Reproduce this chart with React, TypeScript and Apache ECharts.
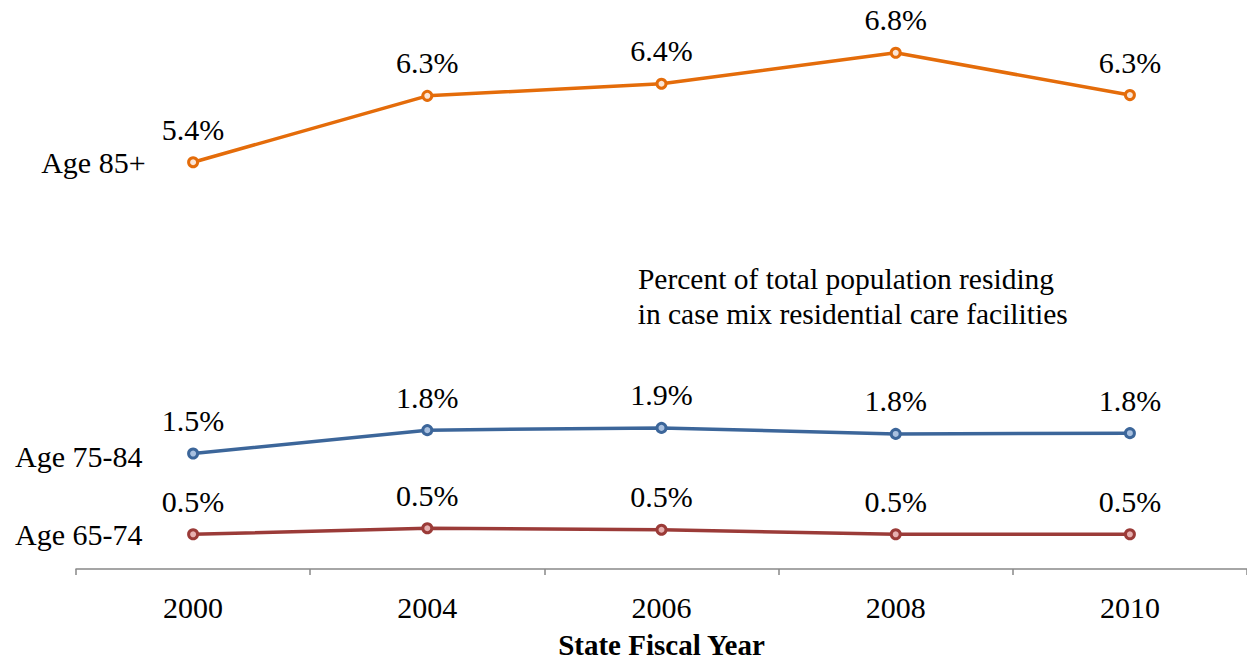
import React, { useEffect, useRef } from "react";
import * as echarts from "echarts";

const categories = ["2000", "2004", "2006", "2008", "2010"];
const age85Plus = [5.39, 6.27, 6.43, 6.84, 6.28];
const age75to84 = [1.53, 1.84, 1.87, 1.79, 1.8];
const age65to74 = [0.46, 0.54, 0.52, 0.46, 0.46];
const seriesNames = ["Age 85+", "Age 75-84", "Age 65-74"];
const annotationLines = [
  "Percent of total population residing",
  "in case mix residential care facilities",
];
const xAxisTitle = "State Fiscal Year";

const FONT = "Liberation Serif, Times New Roman, serif";
const FS = 30;

export default function App() {
  const ref = useRef<HTMLDivElement>(null);
  useEffect(() => {
    if (!ref.current) return;
    const chart = echarts.init(ref.current, undefined, { renderer: "svg" });
    const txt = {
      color: "#000",
      fontFamily: FONT,
      fontSize: FS,
      lineHeight: FS,
    };
    const mk = (
      name: string,
      data: number[],
      color: string,
      fill: string,
      nameDist: number,
      nameOffY: number
    ) => ({
      type: "line",
      name,
      data,
      symbol: "circle",
      symbolSize: 9,
      lineStyle: { color, width: 3.5 },
      itemStyle: { color: fill, borderColor: color, borderWidth: 3 },
      label: {
        show: true,
        position: "top",
        distance: 12,
        ...txt,
        formatter: (p: any) => Number(p.value).toFixed(1) + "%",
      },
      markPoint: {
        symbol: "circle",
        symbolSize: 1,
        itemStyle: { color: "transparent" },
        label: {
          show: true,
          position: "left",
          distance: nameDist,
          offset: [0, nameOffY],
          ...txt,
          formatter: name,
        },
        data: [{ coord: [categories[0], data[0]], name }],
      },
    });
    chart.setOption({
      animation: false,
      backgroundColor: "#fff",
      textStyle: { fontFamily: FONT },
      grid: { left: 76, right: 0, top: 3, bottom: 92, outerBoundsMode: "none", containLabel: false },
      xAxis: {
        type: "category",
        data: categories,
        boundaryGap: true,
        offset: 2,
        axisLine: { lineStyle: { color: "#888888", width: 1.5 } },
        axisTick: { show: true, length: 6, lineStyle: { color: "#888888", width: 1.5 } },
        axisLabel: { ...txt, margin: 21 },
        name: xAxisTitle,
        nameLocation: "middle",
        nameGap: 62.5,
        nameTextStyle: { ...txt, fontSize: 29, lineHeight: 22, fontWeight: "bold" },
      },
      yAxis: {
        type: "value",
        min: 0,
        max: 7.5,
        show: false,
        splitLine: { show: false },
      },
      graphic: [
        {
          type: "text",
          x: 846,
          y: 279,
          style: {
            text: annotationLines[0],
            fill: "#000",
            fontFamily: FONT,
            fontSize: 29.5,
            align: "center",
            verticalAlign: "middle",
          },
        },
        {
          type: "text",
          x: 852.7,
          y: 314,
          style: {
            text: annotationLines[1],
            fill: "#000",
            fontFamily: FONT,
            fontSize: 29.5,
            align: "center",
            verticalAlign: "middle",
          },
        },
      ],
      series: [
        mk(seriesNames[0], age85Plus, "#E46C0A", "#FBE5D6", 47, 0),
        mk(seriesNames[1], age75to84, "#3C669A", "#A9C0DF", 50, 3),
        mk(seriesNames[2], age65to74, "#9B3B38", "#E6B0B0", 50, 0),
      ],
    });
    return () => chart.dispose();
  }, []);
  return (
    <div
      ref={ref}
      style={{ position: "absolute", left: 0, top: 0, width: 1247, height: 661 }}
    />
  );
}
